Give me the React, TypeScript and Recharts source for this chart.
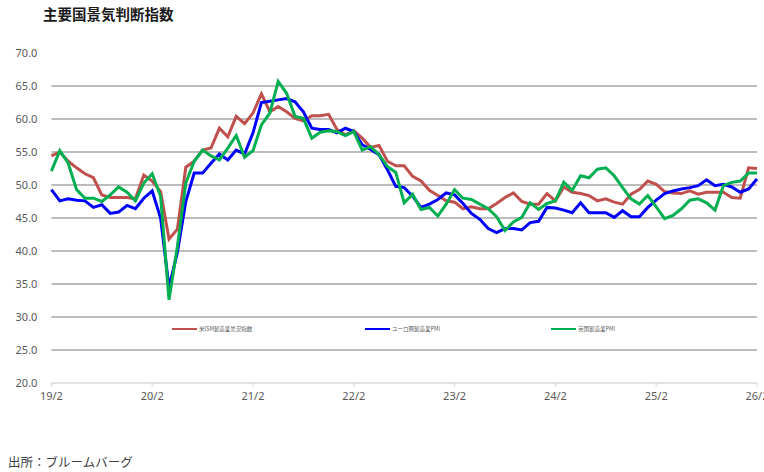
import React from "react";
import { LineChart, Line, XAxis, YAxis, ReferenceLine } from "recharts";

const title = "主要国景気判断指数";
const sourceText = "出所：ブルームバーグ";
const seriesNames = ["米ISM製造業景況指数", "ユーロ圏製造業PMI", "英国製造業PMI"];
const seriesKeys = ["ism", "euro", "uk"];
const seriesColors = ["#C0504D", "#0000FF", "#00B050"];

// Feb 2019 .. Feb 2026 (monthly)
const years = [19, 20, 21, 22, 23, 24, 25, 26];
const monthNums = [2, 3, 4, 5, 6, 7, 8, 9, 10, 11, 12, 1];
const months: string[] = [];
years.forEach((y) => {
  monthNums.forEach((m) => {
    const yy = m === 1 ? y + 1 : y;
    if (months.length < 85) months.push(`${yy}/${m}`);
  });
});

const ism = [
  54.4, 55.0, 53.6, 52.6, 51.7, 51.1, 48.5, 48.1, 48.1, 48.1, 47.9, 51.5,
  50.6, 49.0, 41.8, 43.3, 52.7, 53.6, 55.3, 55.6, 58.6, 57.3, 60.4, 59.3,
  60.9, 63.8, 61.1, 61.9, 61.1, 60.1, 59.7, 60.5, 60.5, 60.7, 58.4, 57.6,
  58.2, 57.1, 55.7, 56.0, 53.6, 52.9, 52.9, 51.3, 50.6, 49.2, 48.4, 47.6,
  47.4, 46.4, 46.7, 46.4, 46.4, 47.2, 48.1, 48.8, 47.5, 47.1, 47.1, 48.7,
  47.6, 49.7, 48.9, 48.7, 48.4, 47.6, 47.9, 47.4, 47.1, 48.6, 49.3, 50.6,
  50.1, 49.0, 48.8, 48.7, 49.1, 48.6, 48.9, 48.9, 48.9, 48.1, 48.0, 52.6,
  52.5,
];

const euro = [
  49.3, 47.6, 47.9, 47.7, 47.6, 46.6, 47.0, 45.7, 45.9, 46.9, 46.4, 48.0,
  49.1, 45.0, 34.5, 39.8, 47.5, 51.8, 51.8, 53.3, 54.7, 53.8, 55.3, 54.7,
  57.9, 62.5, 62.7, 62.9, 63.1, 62.6, 61.1, 58.6, 58.4, 58.4, 57.9, 58.6,
  58.1, 56.1, 55.4, 54.6, 52.3, 49.8, 49.6, 48.3, 46.6, 47.1, 47.8, 48.8,
  48.5, 47.2, 45.7, 44.8, 43.4, 42.8, 43.4, 43.4, 43.2, 44.3, 44.5, 46.6,
  46.5, 46.2, 45.8, 47.3, 45.8, 45.8, 45.8, 45.1, 46.1, 45.2, 45.2, 46.6,
  47.7, 48.7, 49.1, 49.4, 49.6, 49.9, 50.8, 49.9, 50.1, 49.7, 48.9, 49.4,
  50.9,
];

const uk = [
  52.1, 55.2, 53.3, 49.3, 48.0, 48.0, 47.5, 48.5, 49.7, 48.9, 47.6, 50.3,
  51.7, 48.3, 32.6, 40.7, 50.3, 53.6, 55.3, 54.4, 53.8, 55.6, 57.5, 54.2,
  55.2, 59.1, 60.9, 65.7, 63.9, 60.4, 60.1, 57.1, 58.0, 58.2, 58.1, 57.5,
  58.1, 55.3, 55.8, 54.6, 52.8, 51.9, 47.3, 48.6, 46.3, 46.6, 45.3, 47.1,
  49.3, 48.0, 47.8, 47.1, 46.4, 45.2, 43.1, 44.4, 45.1, 47.3, 46.3, 47.2,
  47.6, 50.4, 49.2, 51.4, 51.1, 52.4, 52.6, 51.4, 49.6, 47.9, 47.1, 48.4,
  46.7, 44.9, 45.4, 46.4, 47.7, 47.9, 47.3, 46.2, 49.9, 50.4, 50.6, 51.8,
  51.8,
];

const yTicks = [20, 25, 30, 35, 40, 45, 50, 55, 60, 65, 70];
const gridValues = [25, 30, 35, 40, 45, 50, 55, 60, 65];

const data = months.map((m, i) => ({
  month: m,
  ism: ism[i],
  euro: euro[i],
  uk: uk[i],
}));

const legendOffsets = [172, 365, 551];

const LegendBlock = () => (
  <div style={{ position: "absolute", left: 0, top: 323, width: 764, height: 12 }}>
    {seriesNames.map((name, i) => (
      <div
        key={name}
        style={{
          position: "absolute",
          left: legendOffsets[i],
          top: 0,
          height: 12,
          display: "flex",
          alignItems: "center",
          whiteSpace: "nowrap",
        }}
      >
        <div style={{ width: 25, height: 2, background: seriesColors[i] }} />
        <span
          style={{
            marginLeft: 2,
            fontSize: 5.5,
            color: "#595959",
            fontFamily: "'Noto Sans CJK JP', sans-serif",
            lineHeight: "12px",
          }}
        >
          {name}
        </span>
      </div>
    ))}
  </div>
);

export default function App() {
  const tickStyle = {
    fontSize: 11,
    fill: "#595959",
    fontFamily: "'Noto Sans', sans-serif",
  };
  return (
    <div
      style={{
        position: "absolute",
        left: 0,
        top: 0,
        width: 764,
        height: 472,
        background: "#ffffff",
        overflow: "hidden",
      }}
    >
      <div
        style={{
          position: "absolute",
          left: 43,
          top: 4,
          fontSize: 14.5,
          fontWeight: 700,
          color: "#1a1a1a",
          fontFamily: "'Noto Sans CJK JP', sans-serif",
          lineHeight: "20px",
          whiteSpace: "nowrap",
        }}
      >
        {title}
      </div>
      <div style={{ position: "absolute", left: 0, top: 0 }}>
        <LineChart
          width={764}
          height={472}
          data={data}
          margin={{ top: 53, right: 7, bottom: 59, left: 0 }}
        >
          {gridValues.map((v) => (
            <ReferenceLine key={v} y={v} stroke="#a6a6a6" strokeWidth={1.5} />
          ))}
          <XAxis
            dataKey="month"
            interval={11}
            axisLine={{ stroke: "#d9d9d9", strokeWidth: 1.5 }}
            tickLine={{ stroke: "#d9d9d9" }}
            tickSize={4}
            tickMargin={5}
            tick={tickStyle}
            height={30}
          />
          <YAxis
            type="number"
            domain={[20, 70]}
            ticks={yTicks}
            interval={0}
            width={51.4}
            axisLine={false}
            tickLine={false}
            tickSize={6}
            tickMargin={8}
            tick={tickStyle}
            tickFormatter={(v: number) => v.toFixed(1)}
          />
          {seriesKeys.map((k, i) => (
            <Line
              key={k}
              type="linear"
              dataKey={k}
              name={seriesNames[i]}
              stroke={seriesColors[i]}
              strokeWidth={3}
              dot={false}
              activeDot={false}
              isAnimationActive={false}
            />
          ))}
        </LineChart>
      </div>
      <LegendBlock />
      <div
        style={{
          position: "absolute",
          left: 8,
          top: 453,
          fontSize: 12.5,
          color: "#404040",
          fontFamily: "'Noto Sans CJK JP', sans-serif",
          lineHeight: "18px",
          whiteSpace: "nowrap",
        }}
      >
        {sourceText}
      </div>
    </div>
  );
}
